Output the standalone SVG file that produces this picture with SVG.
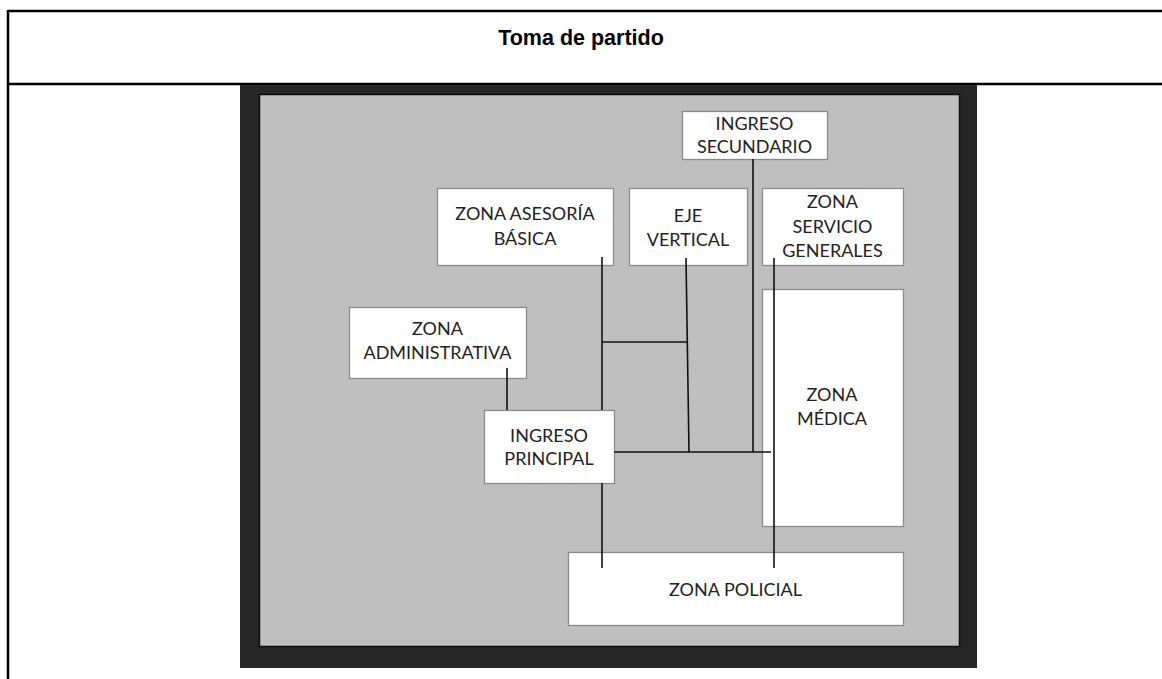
<svg xmlns="http://www.w3.org/2000/svg" width="1162" height="679" viewBox="0 0 1162 679">
<style>
.frame{stroke:#000;stroke-width:2.5;fill:none}
.node rect{fill:#fff;stroke:#8a8a8a;stroke-width:1.3}
.node text{font-family:Lato,"Open Sans","Liberation Sans",sans-serif;font-size:18px;fill:#222;text-anchor:middle}
#connectors line{stroke:#111;stroke-width:1.6}
.title{font-family:"Liberation Sans",Arial,sans-serif;font-weight:bold;font-size:21.5px;fill:#000;text-anchor:middle}
</style>
<rect width="1162" height="679" fill="#fff"/>
<g id="table">
<line class="frame" x1="8" y1="11" x2="1162" y2="11"/>
<line class="frame" x1="8" y1="84" x2="1162" y2="84"/>
<line class="frame" x1="8" y1="10" x2="8" y2="679"/>
<text class="title" x="581" y="45">Toma de partido</text>
</g>
<g id="plan">
<rect x="240" y="85" width="737" height="583" fill="#262626"/>
<rect x="259.5" y="94.5" width="700" height="552" fill="#bfbfbf" stroke="#0d0d0d" stroke-width="1.5"/>
</g>
<g id="n-secundario" class="node"><rect x="682.5" y="111.5" width="145" height="48"/><text x="754.5" y="130">INGRESO</text><text x="754.5" y="153">SECUNDARIO</text></g>
<g id="n-asesoria" class="node"><rect x="437.5" y="188.5" width="176" height="77"/><text x="525" y="220">ZONA ASESORÍA</text><text x="525" y="245">BÁSICA</text></g>
<g id="n-eje" class="node"><rect x="629.5" y="188.5" width="118" height="77"/><text x="688" y="222">EJE</text><text x="688" y="246">VERTICAL</text></g>
<g id="n-servicio" class="node"><rect x="762.5" y="188.5" width="141" height="77"/><text x="832.5" y="208">ZONA</text><text x="832.5" y="233">SERVICIO</text><text x="832.5" y="257">GENERALES</text></g>
<g id="n-admin" class="node"><rect x="349.5" y="307.5" width="177" height="71"/><text x="437.5" y="335">ZONA</text><text x="437.5" y="359">ADMINISTRATIVA</text></g>
<g id="n-principal" class="node"><rect x="484.5" y="410.5" width="130" height="73"/><text x="549" y="442">INGRESO</text><text x="549" y="465">PRINCIPAL</text></g>
<g id="n-medica" class="node"><rect x="762.5" y="289.5" width="141" height="237"/><text x="832" y="401">ZONA</text><text x="832" y="425">MÉDICA</text></g>
<g id="n-policial" class="node"><rect x="568.5" y="552.5" width="335" height="73"/><text x="735.5" y="596">ZONA POLICIAL</text></g>
<g id="connectors">
<line x1="602" y1="257" x2="602" y2="410"/>
<line x1="602" y1="342" x2="687" y2="342"/>
<line x1="686" y1="258" x2="689" y2="452"/>
<line x1="753" y1="159" x2="753" y2="452"/>
<line x1="614" y1="452" x2="771" y2="452"/>
<line x1="774" y1="258" x2="774" y2="568"/>
<line x1="507" y1="368" x2="507" y2="410"/>
<line x1="602" y1="483" x2="602" y2="568"/>
</g>
</svg>
